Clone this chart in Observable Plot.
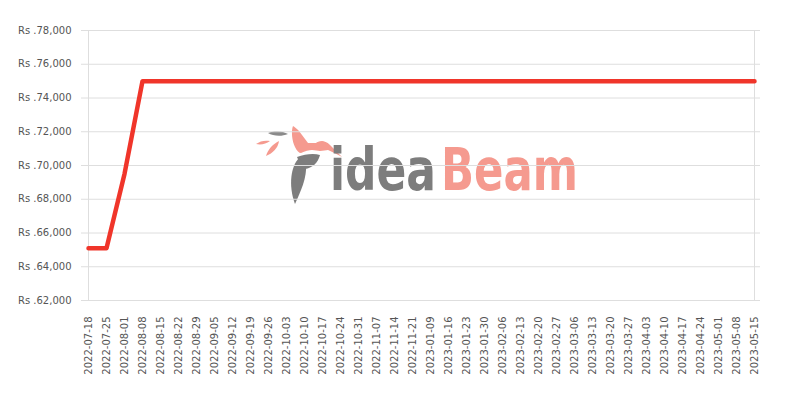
<!DOCTYPE html>
<html>
<head>
<meta charset="utf-8">
<script src="https://cdn.jsdelivr.net/npm/d3@7"></script>
<script src="https://cdn.jsdelivr.net/npm/@observablehq/plot@0.6"></script>
<style>
  html, body { margin: 0; padding: 0; background: #fff; }
  #wrap { position: relative; width: 800px; height: 400px; }
  #logo { position: absolute; left: 0; top: 0; pointer-events: none; }
</style>
</head>
<body>
<div id="wrap"></div>
<script>
const dates = [
  "2022-07-18","2022-07-25","2022-08-01","2022-08-08","2022-08-15","2022-08-22","2022-08-29",
  "2022-09-05","2022-09-12","2022-09-19","2022-09-26","2022-10-03","2022-10-10","2022-10-17",
  "2022-10-24","2022-10-31","2022-11-07","2022-11-14","2022-11-21",
  "2023-01-09","2023-01-16","2023-01-23","2023-01-30","2023-02-06","2023-02-13","2023-02-20",
  "2023-02-27","2023-03-06","2023-03-13","2023-03-20","2023-03-27","2023-04-03","2023-04-10",
  "2023-04-17","2023-04-24","2023-05-01","2023-05-08","2023-05-15"
];
const prices = [
  65100, 65100, 69500, 74999, 74999, 74999, 74999,
  74999, 74999, 74999, 74999, 74999, 74999, 74999,
  74999, 74999, 74999, 74999, 74999,
  74999, 74999, 74999, 74999, 74999, 74999, 74999,
  74999, 74999, 74999, 74999, 74999, 74999, 74999,
  74999, 74999, 74999, 74999, 74999
];
const yTicks = [62000, 64000, 66000, 68000, 70000, 72000, 74000, 76000, 78000];

const data = dates.map((d, i) => ({date: d, price: prices[i]}));
const fmt = d3.format(",");

const W = 800, H = 400, ML = 81, MR = 40, MT = 30, MB = 100;

const chart = Plot.plot({
  width: W,
  height: H,
  marginLeft: ML,
  marginRight: MR,
  marginTop: MT,
  marginBottom: MB,
  style: {fontFamily: "DejaVu Sans", fontSize: "10px", color: "#555", background: "transparent"},
  x: {type: "point", domain: dates, padding: 0, range: [ML, W - MR], label: null},
  y: {domain: [62000, 78000], label: null},
  marks: [
    Plot.gridY(yTicks, {stroke: "#dedede", strokeOpacity: 1}),
    Plot.ruleX([dates[0], dates[dates.length - 1]], {stroke: "#dedede"}),
    Plot.ruleY([62000], {stroke: "#dedede"}),
    Plot.axisY(yTicks, {tickSize: 0, tickPadding: 10, tickFormat: d => "Rs ." + fmt(d), fill: "#555"}),
    Plot.axisX(dates, {tickSize: 0, tickPadding: 16, tickRotate: -90, fill: "#555"}),
    Plot.lineY(data, {x: "date", y: "price", stroke: "#f0352a", strokeWidth: 4.5, curve: "linear"})
  ]
});

const wrap = document.getElementById("wrap");

// watermark logo (decoration behind the chart)
const logo = document.createElementNS("http://www.w3.org/2000/svg", "svg");
logo.setAttribute("id", "logo");
logo.setAttribute("width", W);
logo.setAttribute("height", H);
logo.innerHTML = `
  <path d="M293,126 C291,131 292,141 295,147 C297,151 299,153 301,153 C305,151 309,150 312,150 C315,150 318,151 320,151 C323,151 326,150 328,150 C333,152 338,155 342,157 C338,153 334,149 330,145 C327,142 324,141 322,141 C319,141 317,142 316,143 C313,143 310,143 308,143 C305,139 302,135 299,131 C297,129 295,127 293,126 Z" fill="#f59a8f"/>
  <path d="M268,133 C275,130 283,131 288,134 C281,137 273,136 268,133 Z" fill="#8a8a8a"/>
  <path d="M256,144 C260,141 265,140 270,141 C266,144 261,145 256,144 Z" fill="#f59a8f"/>
  <path d="M266,156 C268,149 273,144 279,141 C278,148 273,153 266,156 Z" fill="#f59a8f"/>
  <path d="M297,157 C305,154 314,153 320,155 C318,163 312,168 305,169 C301,166 299,162 297,157 Z" fill="#7d7d7d"/>
  <path d="M299,158 C291,166 288,185 295,204 C301,191 307,177 306,165 Z" fill="#7d7d7d"/>
  <text id="t1" font-family="DejaVu Sans Condensed, DejaVu Sans" font-weight="bold" font-size="58" fill="#7d7d7d">idea</text>
  <text id="t2" font-family="DejaVu Sans Condensed, DejaVu Sans" font-weight="bold" font-size="58" fill="#f59a8f">Beam</text>
`;
wrap.appendChild(logo);
function fit(id, x, y, w) {
  const t = logo.querySelector("#" + id);
  const len = t.getComputedTextLength() || w;
  t.setAttribute("transform", `translate(${x},${y}) scale(${w / len},1)`);
}
fit("t1", 330, 190, 106);
fit("t2", 441, 190, 137);
chart.style.position = "absolute";
chart.style.left = "0";
chart.style.top = "0";
wrap.appendChild(chart);
</script>
</body>
</html>
